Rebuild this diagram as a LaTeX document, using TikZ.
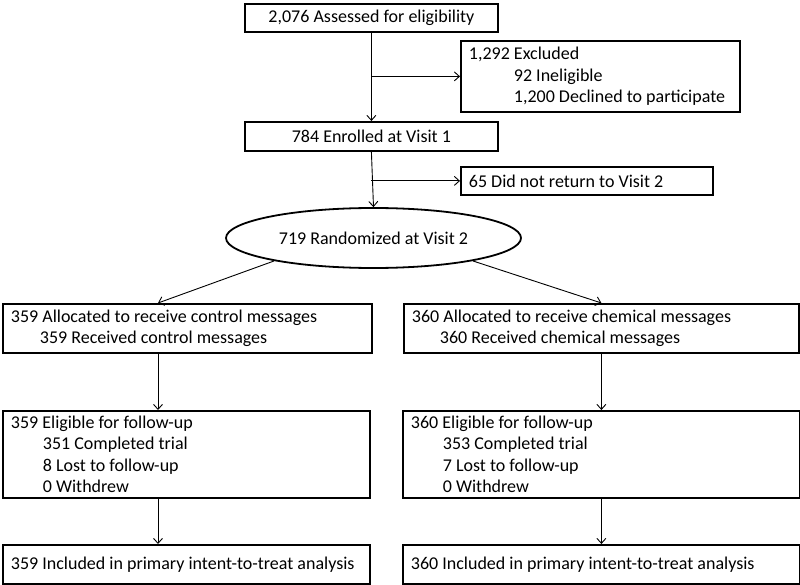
\documentclass[tikz,border=0pt]{standalone}
\usepackage{fontspec}
\setmainfont{Carlito}
\usetikzlibrary{arrows.meta,shapes.geometric}
\tikzset{
  box/.style={draw, line width=1.8pt, anchor=north west, inner xsep=8pt, inner ysep=0pt, align=left,
    execute at begin node={\spaceskip=0pt\relax\xspaceskip=0pt\relax}},
  oval/.style={draw, ellipse, line width=1.8pt, inner sep=0pt},
  arr/.style={-{Straight Barb[length=5pt,width=9pt]}, line width=0.9pt},
}
\begin{document}
\begin{tikzpicture}[x=1pt,y=-1pt,font=\fontsize{18}{21.5}\selectfont]
    \useasboundingbox (0,0) rectangle (800,585);

    \node[box, align=center, minimum width=253pt, minimum height=28pt] (assess) at (244,3) {2,076 Assessed for eligibility};
    \node[box, text width=263pt, minimum height=71pt] (excl) at (460,40)
        {1,292 Excluded\\\hspace*{45pt}92 Ineligible\\\hspace*{45pt}1,200 Declined to participate};
    \node[box, align=center, minimum width=253pt, minimum height=29pt] (enrol) at (244,121) {784 Enrolled at Visit 1};
    \node[box, text width=236pt, minimum height=28pt] (noret) at (460,166) {65 Did not return to Visit 2};
    \node[oval, minimum width=295pt, minimum height=60pt] (rand) at (373.5,238) {719 Randomized at Visit 2};

    \node[box, text width=353pt, minimum height=49pt] (allocC) at (2,303)
        {359 Allocated to receive control messages\\\hspace*{29pt}359 Received control messages};
    \node[box, text width=379pt, minimum height=49pt] (allocX) at (403,303)
        {360 Allocated to receive chemical messages\\\hspace*{28pt}360 Received chemical messages};

    \node[box, text width=351pt, minimum height=87pt] (eligC) at (2,410)
        {359 Eligible for follow-up\\\hspace*{32pt}351 Completed trial\\\hspace*{32pt}8 Lost to follow-up\\\hspace*{32pt}0 Withdrew};
    \node[box, text width=381pt, minimum height=87pt] (eligX) at (402,410)
        {360 Eligible for follow-up\\\hspace*{32pt}353 Completed trial\\\hspace*{32pt}7 Lost to follow-up\\\hspace*{32pt}0 Withdrew};

    \node[box, text width=351pt, minimum height=39pt] (ittC) at (2,544) {359 Included in primary intent-to-treat analysis};
    \node[box, text width=381pt, minimum height=39pt] (ittX) at (402,544) {360 Included in primary intent-to-treat analysis};

    \coordinate (colC) at (158,0);

    \draw[arr] (assess.south) -- (enrol.north);
    \draw[arr] (assess.south |- excl.west) -- (excl.west);
    \draw[arr] (enrol.south) -- (rand.north);
    \draw[arr] (enrol.south |- noret.west) -- (noret.west);

    \draw[arr] (rand.193) -- (allocC.north -| colC);
    \draw[arr] (rand.347) -- (allocX.north);

    \draw[arr] (allocC.south -| colC) -- (eligC.north -| colC);
    \draw[arr] (allocX.south) -- (eligX.north);
    \draw[arr] (eligC.south -| colC) -- (ittC.north -| colC);
    \draw[arr] (eligX.south) -- (ittX.north);
\end{tikzpicture}
\end{document}
